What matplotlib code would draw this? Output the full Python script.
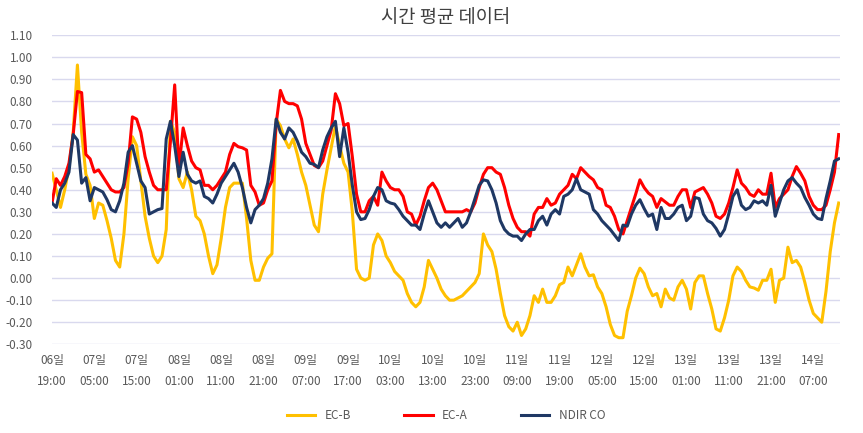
import matplotlib
matplotlib.use('Agg')
import matplotlib.pyplot as plt
import numpy as np

plt.rcParams['font.family'] = ['Noto Sans CJK KR', 'DejaVu Sans']

# 시간 평균 데이터 (06일 19:00 부터 1시간 간격)
ec_b = [0.475, 0.40, 0.32, 0.40, 0.50, 0.66, 0.965, 0.66, 0.47, 0.42,
        0.27, 0.34, 0.33, 0.26, 0.18, 0.08, 0.05, 0.20, 0.45, 0.64,
        0.60, 0.44, 0.28, 0.18, 0.10, 0.07, 0.10, 0.22, 0.71, 0.66,
        0.45, 0.41, 0.48, 0.40, 0.28, 0.26, 0.20, 0.10, 0.02, 0.06,
        0.18, 0.32, 0.41, 0.43, 0.43, 0.43, 0.27, 0.08, -0.01, -0.01,
        0.05, 0.09, 0.11, 0.72, 0.69, 0.63, 0.59, 0.63, 0.56, 0.48,
        0.42, 0.33, 0.24, 0.21, 0.38, 0.49, 0.59, 0.69, 0.60, 0.52,
        0.48, 0.30, 0.04, 0.00, -0.01, 0.00, 0.15, 0.20, 0.17, 0.10,
        0.07, 0.03, 0.01, -0.01, -0.07, -0.11, -0.13, -0.11, -0.04, 0.08,
        0.04, 0.00, -0.05, -0.08, -0.10, -0.10, -0.09, -0.08, -0.06, -0.04,
        -0.02, 0.02, 0.20, 0.15, 0.12, 0.04, -0.07, -0.17, -0.22, -0.24,
        -0.20, -0.26, -0.23, -0.17, -0.08, -0.11, -0.05, -0.11, -0.11, -0.08,
        -0.03, -0.02, 0.05, 0.01, 0.06, 0.11, 0.05, 0.01, 0.015, -0.04,
        -0.07, -0.13, -0.21, -0.26, -0.27, -0.27, -0.15, -0.08, 0.00, 0.045,
        0.02, -0.04, -0.08, -0.07, -0.13, -0.05, -0.09, -0.10, -0.04, -0.01,
        -0.05, -0.14, -0.02, 0.01, 0.01, -0.07, -0.14, -0.23, -0.24, -0.18,
        -0.10, 0.01, 0.05, 0.03, -0.01, -0.04, -0.045, -0.055, -0.01, -0.01,
        0.04, -0.11, -0.01, 0.00, 0.14, 0.07, 0.08, 0.05, -0.02, -0.10,
        -0.16, -0.18, -0.20, -0.06, 0.12, 0.25, 0.34]

ec_a = [0.34, 0.45, 0.42, 0.46, 0.52, 0.65, 0.845, 0.84, 0.56, 0.54,
        0.48, 0.49, 0.46, 0.43, 0.40, 0.39, 0.39, 0.41, 0.52, 0.73,
        0.72, 0.66, 0.55, 0.48, 0.42, 0.40, 0.40, 0.40, 0.62, 0.875,
        0.50, 0.68, 0.60, 0.53, 0.50, 0.49, 0.42, 0.42, 0.40, 0.42,
        0.45, 0.48, 0.56, 0.61, 0.595, 0.59, 0.58, 0.42, 0.39, 0.33,
        0.34, 0.40, 0.44, 0.70, 0.85, 0.80, 0.79, 0.79, 0.78, 0.72,
        0.61, 0.56, 0.51, 0.50, 0.53, 0.60, 0.67, 0.835, 0.79, 0.69,
        0.70, 0.55, 0.38, 0.30, 0.30, 0.35, 0.37, 0.33, 0.48, 0.44,
        0.41, 0.40, 0.40, 0.37, 0.30, 0.29, 0.24, 0.28, 0.35, 0.41,
        0.43, 0.40, 0.35, 0.30, 0.30, 0.30, 0.30, 0.30, 0.31, 0.30,
        0.34, 0.41, 0.47, 0.50, 0.50, 0.48, 0.47, 0.41, 0.33, 0.27,
        0.23, 0.21, 0.21, 0.19, 0.29, 0.32, 0.32, 0.36, 0.33, 0.34,
        0.38, 0.40, 0.42, 0.47, 0.45, 0.50, 0.48, 0.46, 0.445, 0.41,
        0.40, 0.33, 0.32, 0.28, 0.22, 0.20, 0.26, 0.32, 0.38, 0.445,
        0.41, 0.385, 0.37, 0.32, 0.36, 0.345, 0.33, 0.33, 0.37, 0.40,
        0.40, 0.32, 0.39, 0.40, 0.41, 0.38, 0.34, 0.28, 0.27, 0.29,
        0.34, 0.41, 0.49, 0.43, 0.41, 0.38, 0.37, 0.40, 0.38, 0.38,
        0.475, 0.32, 0.36, 0.38, 0.40, 0.46, 0.505, 0.475, 0.44, 0.37,
        0.33, 0.31, 0.31, 0.33, 0.40, 0.48, 0.65]

ndir_co = [0.34, 0.32, 0.40, 0.43, 0.48, 0.65, 0.625, 0.43, 0.455, 0.35,
           0.41, 0.40, 0.39, 0.355, 0.31, 0.30, 0.35, 0.43, 0.57, 0.60,
           0.52, 0.44, 0.41, 0.29, 0.30, 0.31, 0.315, 0.63, 0.71, 0.60,
           0.46, 0.57, 0.47, 0.44, 0.43, 0.44, 0.37, 0.36, 0.34, 0.38,
           0.43, 0.46, 0.49, 0.52, 0.48, 0.41, 0.32, 0.25, 0.31, 0.33,
           0.36, 0.43, 0.54, 0.72, 0.66, 0.63, 0.68, 0.66, 0.62, 0.57,
           0.55, 0.52, 0.515, 0.50, 0.58, 0.64, 0.68, 0.71, 0.55, 0.68,
           0.57, 0.42, 0.30, 0.265, 0.27, 0.31, 0.37, 0.41, 0.40, 0.35,
           0.34, 0.335, 0.31, 0.28, 0.26, 0.24, 0.24, 0.22, 0.29, 0.35,
           0.30, 0.25, 0.23, 0.25, 0.23, 0.25, 0.27, 0.23, 0.25, 0.30,
           0.36, 0.42, 0.445, 0.44, 0.40, 0.34, 0.26, 0.22, 0.20, 0.19,
           0.19, 0.17, 0.20, 0.22, 0.22, 0.26, 0.28, 0.24, 0.29, 0.31,
           0.29, 0.37, 0.38, 0.40, 0.45, 0.40, 0.39, 0.38, 0.31, 0.29,
           0.26, 0.24, 0.22, 0.195, 0.17, 0.24, 0.235, 0.29, 0.33, 0.355,
           0.315, 0.28, 0.29, 0.22, 0.32, 0.27, 0.27, 0.29, 0.32, 0.33,
           0.26, 0.28, 0.365, 0.36, 0.29, 0.26, 0.25, 0.225, 0.19, 0.22,
           0.29, 0.37, 0.40, 0.33, 0.31, 0.32, 0.35, 0.34, 0.35, 0.33,
           0.42, 0.28, 0.34, 0.40, 0.44, 0.455, 0.43, 0.41, 0.365, 0.33,
           0.29, 0.27, 0.265, 0.36, 0.44, 0.53, 0.54]

# x축 라벨 (10시간 간격)
tick_labels = ['06일\n19:00', '07일\n05:00', '07일\n15:00', '08일\n01:00',
               '08일\n11:00', '08일\n21:00', '09일\n07:00', '09일\n17:00',
               '10일\n03:00', '10일\n13:00', '10일\n23:00', '11일\n09:00',
               '11일\n19:00', '12일\n05:00', '12일\n15:00', '13일\n01:00',
               '13일\n11:00', '13일\n21:00', '14일\n07:00']

x = np.arange(len(ec_b))

fig = plt.figure(figsize=(8.63, 4.33), dpi=100)
ax = fig.add_axes([0.0603, 0.2048, 0.913, 0.7139])

ax.plot(x, ec_b, color='#FFC000', lw=2.2, label='EC-B')
ax.plot(x, ec_a, color='#FF0000', lw=2.2, label='EC-A')
ax.plot(x, ndir_co, color='#1F3864', lw=2.2, label='NDIR CO')

ax.set_xlim(0, len(x) - 0.7)
ax.set_ylim(-0.30, 1.10)
ax.set_yticks(np.arange(-0.30, 1.1001, 0.10))
ax.yaxis.set_major_formatter(matplotlib.ticker.FormatStrFormatter('%.2f'))
ax.set_xticks(np.arange(0, len(tick_labels) * 10, 10))
ax.set_xticklabels(tick_labels, linespacing=1.75)

ax.grid(axis='y', color='#D9D9EE', lw=1)
ax.set_axisbelow(True)
for s in ax.spines.values():
    s.set_visible(False)
ax.tick_params(length=0, labelsize=8.5, colors='#595959')
ax.tick_params(axis='x', pad=7)
ax.tick_params(axis='y', pad=14)

ax.set_title('시간 평균 데이터', fontsize=13.5, color='#404040', pad=9)

ax.legend(loc='upper center', bbox_to_anchor=(0.5, -0.175), ncol=3, frameon=False,
          fontsize=8.5, handlelength=2.4, columnspacing=4.5, labelcolor='#595959')

fig.savefig('out.png', dpi=100)
